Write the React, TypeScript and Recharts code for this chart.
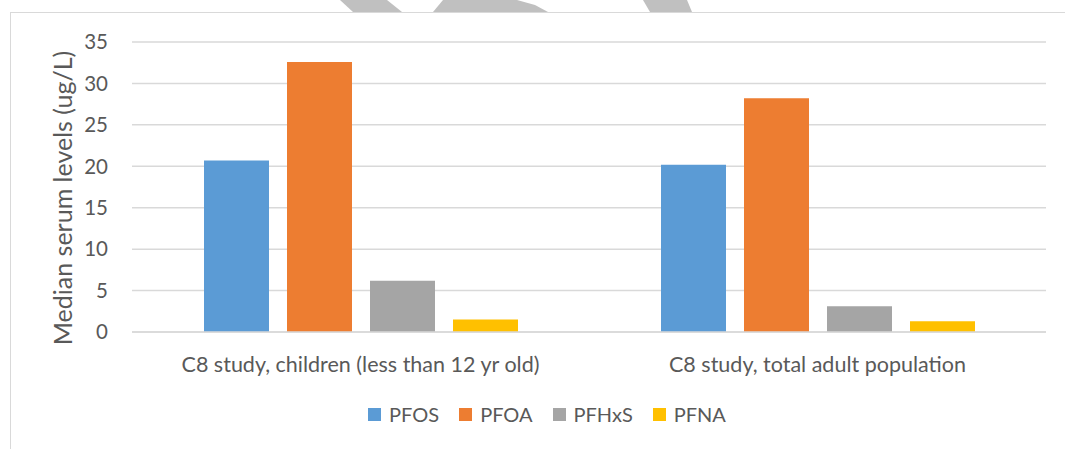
import { Bar, BarChart, CartesianGrid, Legend, XAxis, YAxis } from "recharts";

const studies = [
	"C8 study, children (less than 12 yr old)",
	"C8 study, total adult population",
];
const pfos = [20.7, 20.2];
const pfoa = [32.6, 28.2];
const pfhxs = [6.2, 3.1];
const pfna = [1.5, 1.3];
const yTicks = [0, 5, 10, 15, 20, 25, 30, 35];

const SERIES = [
	{ key: "PFOS", values: pfos, color: "#5B9BD5" },
	{ key: "PFOA", values: pfoa, color: "#ED7D31" },
	{ key: "PFHxS", values: pfhxs, color: "#A5A5A5" },
	{ key: "PFNA", values: pfna, color: "#FFC000" },
];

const data = studies.map((study, i) => {
	const row: Record<string, string | number> = { study };
	for (const s of SERIES) row[s.key] = s.values[i];
	return row;
});

const FONT = "Lato, 'Open Sans', sans-serif";
const TEXT = "#595959";
const GRID = "#D9D9D9";

function LegendRow() {
	return (
		<div
			style={{
				display: "flex",
				justifyContent: "center",
				alignItems: "center",
				gap: 20,
				fontFamily: FONT,
				fontSize: 20,
				color: TEXT,
				height: 30,
			}}
		>
			{SERIES.map((s) => (
				<div key={s.key} style={{ display: "flex", alignItems: "center" }}>
					<span
						style={{
							display: "inline-block",
							width: 13,
							height: 13,
							background: s.color,
							marginRight: 8,
						}}
					/>
					{s.key}
				</div>
			))}
		</div>
	);
}

function AxisTitle() {
	return (
		<text
			x={62}
			y={198}
			transform="rotate(-90 62 198)"
			textAnchor="middle"
			dominantBaseline="central"
			fill={TEXT}
			fontFamily={FONT}
			fontSize={25}
		>
			Median serum levels (ug/L)
		</text>
	);
}

export default function App() {
	return (
		<div
			style={{
				position: "relative",
				width: 1065,
				height: 449,
				overflow: "hidden",
				background: "#fff",
			}}
		>
			<style>{"body{margin:0}"}</style>
			<div
				style={{
					position: "absolute",
					left: 10,
					top: 12,
					width: 1100,
					height: 500,
					border: `1.5px solid ${GRID}`,
				}}
			/>
			<svg
				width={1065}
				height={14}
				style={{ position: "absolute", left: 0, top: 0 }}
			>
				<polygon points="340,0 387,0 402,12 353,12" fill="#C0C0C0" />
				<polygon points="443,0 517,0 535,5 548,12 433,12" fill="#C0C0C0" />
				<polygon points="643,0 687,0 692,12 650,12" fill="#C0C0C0" />
			</svg>
			<div style={{ position: "absolute", left: 0, top: 0 }}>
				<BarChart
					width={1065}
					height={449}
					data={data}
					margin={{ top: 42, right: 19, left: 0, bottom: 20 }}
					barSize={65}
					barGap={18}
				>
					<CartesianGrid
						vertical={false}
						stroke={GRID}
						strokeWidth={1.5}
					/>
					<XAxis
						dataKey="study"
						height={67}
						axisLine={{ stroke: GRID, strokeWidth: 1.5 }}
						tickLine={false}
						tickSize={0}
						tickMargin={25}
						tick={{ fill: TEXT, fontSize: 21.5, fontFamily: FONT }}
					/>
					<YAxis
						width={132}
						domain={[0, 35]}
						ticks={yTicks}
						axisLine={false}
						tickLine={false}
						tickSize={0}
						tickMargin={24}
						tick={{ fill: TEXT, fontSize: 20.5, fontFamily: FONT }}
						label={<AxisTitle />}
					/>
					<Legend
						verticalAlign="bottom"
						content={<LegendRow />}
						wrapperStyle={{ left: 11, width: 1072, bottom: 20, height: 30 }}
					/>
					{SERIES.map((s) => (
						<Bar
							key={s.key}
							dataKey={s.key}
							fill={s.color}
							isAnimationActive={false}
						/>
					))}
				</BarChart>
			</div>
		</div>
	);
}
